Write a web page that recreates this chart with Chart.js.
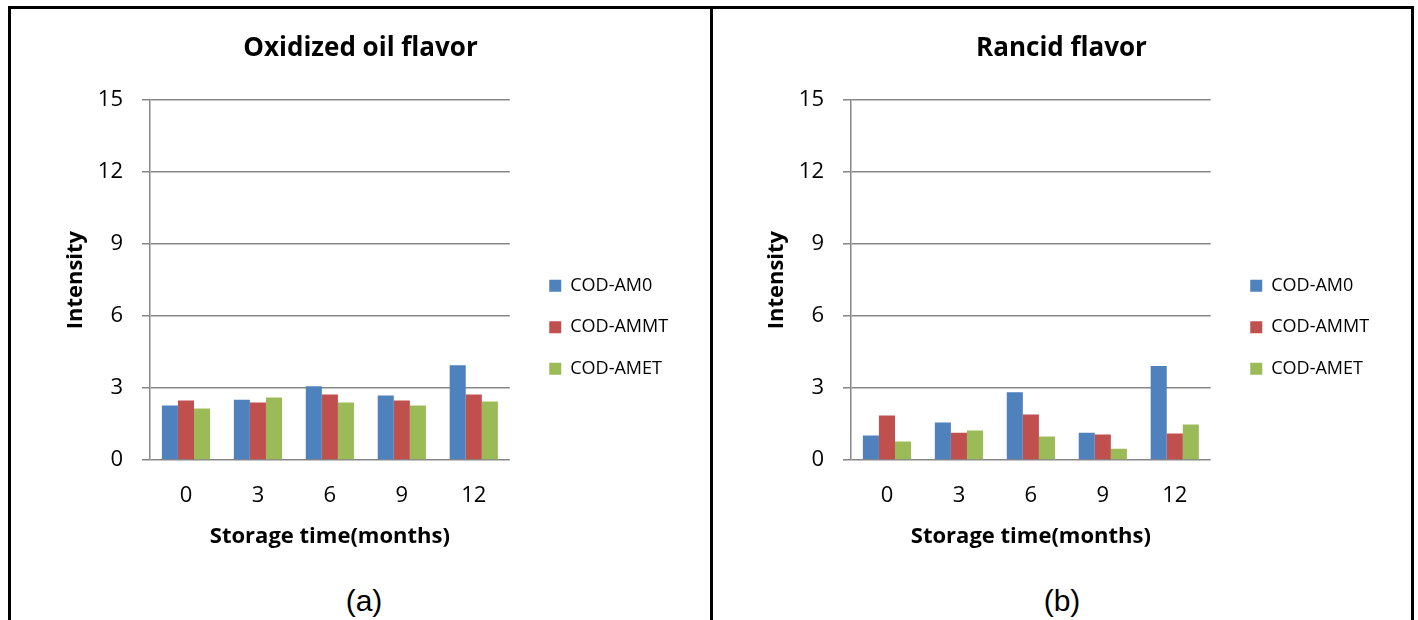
<!DOCTYPE html>
<html>
<head>
<meta charset="utf-8">
<script src="https://cdn.jsdelivr.net/npm/chart.js@4"></script>
<style>
  body { margin: 0; background: #fff; width: 1418px; height: 620px; overflow: hidden; position: relative; }
  .frame { position: absolute; left: 8px; top: 6px; width: 1400px; height: 700px; border: 3px solid #000; border-bottom: none; }
  .divider { position: absolute; left: 710px; top: 6px; width: 3px; height: 620px; background: #000; }
  .wrap { position: absolute; top: 9px; width: 697px; height: 575px; }
  .cap { position: absolute; top: 584px; width: 100px; text-align: center; font: 30px "Liberation Sans", Arial, sans-serif; color: #000; }
</style>
</head>
<body>
<div class="frame"></div>
<div class="divider"></div>
<div class="wrap" style="left:12px"><canvas id="grafico_ossidato"></canvas></div>
<div class="wrap" style="left:713px"><canvas id="grafico_rancido"></canvas></div>
<div class="cap" style="left:314px">(a)</div>
<div class="cap" style="left:1012px">(b)</div>
<script>
// dati
const mesi = ['0', '3', '6', '9', '12'];
const serie = ['COD-AM0', 'COD-AMMT', 'COD-AMET'];
const colori = ['#4F81BD', '#C0504D', '#9BBB59'];
const tickY = [0, 3, 6, 9, 12, 15];

const ossidatoAM0 = [2.27, 2.51, 3.07, 2.69, 3.95];
const ossidatoAMMT = [2.48, 2.40, 2.73, 2.48, 2.73];
const ossidatoAMET = [2.15, 2.61, 2.40, 2.27, 2.44];

const rancidoAM0 = [1.02, 1.56, 2.82, 1.14, 3.92];
const rancidoAMMT = [1.86, 1.14, 1.90, 1.06, 1.10];
const rancidoAMET = [0.77, 1.23, 0.98, 0.47, 1.48];

const grigio = '#878787';
const fontBase = 'Open Sans';

// sposta la legenda un po' a destra, come nell'originale
const spostaLegenda = {
    id: 'spostaLegenda',
    afterLayout(chart){
        const l = chart.legend;
        if(!l) return;
        l.left += 16; l.right += 16;
    }
};

function creaGrafico(idCanvas, titolo, valori){
    const ctx = document.getElementById(idCanvas).getContext('2d');
    return new Chart(ctx, {
        type: 'bar',
        data: {
            labels: mesi,
            datasets: valori.map((v, i) => ({
                label: serie[i],
                data: v,
                backgroundColor: colori[i],
                borderWidth: 0,
                categoryPercentage: 0.67,
                barPercentage: 1
            }))
        },
        options: {
            responsive: true,
            maintainAspectRatio: false,
            animation: false,
            layout: { padding: { left: 50, right: 50, top: 0, bottom: 34 } },
            scales: {
                x: {
                    afterFit: s => { s.height = 90; },
                    grid: { display: false, drawTicks: false },
                    border: { display: false },
                    ticks: { color: '#000', font: { family: fontBase, size: 22 }, padding: 23 },
                    title: { display: true, text: 'Storage time(months)', color: '#000',
                             font: { family: fontBase, size: 22, weight: 'bold' }, padding: { top: 0, bottom: 0.5 } }
                },
                y: {
                    min: 0, max: 15,
                    afterBuildTicks: s => { s.ticks = tickY.map(v => ({ value: v })); },
                    afterFit: s => { s.width = 88; },
                    grid: { color: grigio, lineWidth: 1.5, tickLength: 8 },
                    border: { color: grigio, width: 1.5 },
                    ticks: { color: '#000', font: { family: fontBase, size: 22 }, padding: 19 },
                    title: { display: true, text: 'Intensity', color: '#000',
                             font: { family: fontBase, size: 22, weight: 'bold' }, padding: { top: 1, bottom: 0 } }
                }
            },
            plugins: {
                title: { display: true, text: titolo, color: '#000',
                         font: { family: fontBase, size: 26, weight: 'bold' }, padding: { top: 24, bottom: 36 } },
                legend: {
                    position: 'right',
                    fullSize: false,
                    labels: { color: '#000', font: { family: fontBase, size: 18 }, boxWidth: 12, boxHeight: 12, padding: 23.5 },
                    title: { display: true, text: ' ', padding: { top: 40, bottom: 40 } }
                },
                tooltip: { enabled: false }
            }
        },
        plugins: [spostaLegenda]
    });
}

function start(){
    creaGrafico('grafico_ossidato', 'Oxidized oil flavor', [ossidatoAM0, ossidatoAMMT, ossidatoAMET]);
    creaGrafico('grafico_rancido', 'Rancid flavor', [rancidoAM0, rancidoAMMT, rancidoAMET]);
}

if(document.readyState === 'loading') document.addEventListener('DOMContentLoaded', start);
else start();
</script>
</body>
</html>
